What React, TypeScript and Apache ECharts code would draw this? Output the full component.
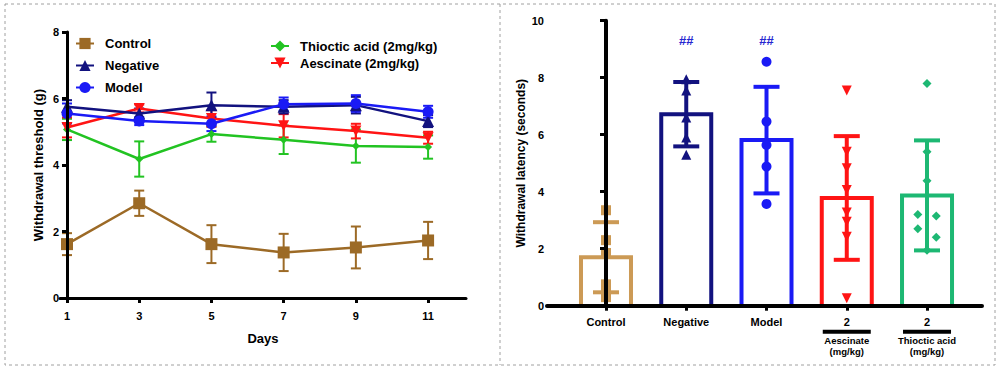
import React, { useEffect, useRef } from "react";
import * as echarts from "echarts";

const FONT = "'Liberation Sans', Arial, Helvetica, sans-serif";

// ---------- Left chart data ----------
const days = [1, 3, 5, 7, 9, 11];
const leftYTicks = [0, 2, 4, 6, 8];
const controlMean = [1.62, 2.85, 1.62, 1.37, 1.52, 1.73];
const controlSd = [0.33, 0.38, 0.57, 0.56, 0.63, 0.56];
const negativeMean = [5.75, 5.55, 5.8, 5.75, 5.8, 5.32];
const negativeSd = [0.2, 0.15, 0.38, 0.2, 0.25, 0.18];
const modelMean = [5.55, 5.32, 5.24, 5.83, 5.85, 5.6];
const modelSd = [0.3, 0.12, 0.22, 0.2, 0.25, 0.18];
const aescinateMean = [5.13, 5.7, 5.4, 5.18, 5.02, 4.82];
const aescinateSd = [0.3, 0.12, 0.25, 0.35, 0.22, 0.18];
const thiocticMean = [5.07, 4.18, 4.93, 4.76, 4.57, 4.54];
const thiocticSd = [0.32, 0.53, 0.23, 0.43, 0.5, 0.35];

// ---------- Right chart data ----------
const groups = ["Control", "Negative", "Model", "Aescinate", "Thioctic acid"];
const tickLabels = ["Control", "Negative", "Model", "2", "2"];
const subLabels = ["", "", "", "Aescinate", "Thioctic acid"];
const rightYTicks = [0, 2, 4, 6, 8, 10];
const barMeans = [1.7, 6.72, 5.81, 3.78, 3.87];
const barSds = [1.23, 1.13, 1.87, 2.17, 1.93];
const sigLabels = ["", "##", "##", "", ""];
const controlPts = [3.35, 2.3, 1.85, 0.75, 0.5, 0.3];
const negativePts = [7.95, 7.55, 6.6, 5.9, 5.3];
const modelPts = [8.56, 6.46, 5.64, 4.88, 3.57];
const aescinatePts = [7.55, 5.4, 4.82, 4.06, 3.27, 2.95, 2.42, 0.26];
const thiocticPts = [7.8, 5.4, 4.38, 3.2, 3.15, 2.7, 2.4, 1.95];
const thiocticJitter = [0, 0, 0, -0.115, 0.115, -0.115, 0.115, 0];

const C = {
  control: "#9c6a26",
  negative: "#12127f",
  model: "#1a1af5",
  aescinate: "#ff1414",
  thioctic: "#22c322",
  controlR: "#cc9a55",
  thiocticR: "#1db873",
  sig: "#2626d0",
};

export default function App() {
  const ref = useRef<HTMLDivElement>(null);

  useEffect(() => {
    document.body.style.margin = "0";
    const chart = echarts.init(ref.current!, null, { renderer: "svg" });

    const lineSeries = (
      name: string,
      mean: number[],
      color: string,
      symbol: string,
      size: number,
      rotate = 0
    ) => ({
      type: "line",
      name,
      xAxisIndex: 0,
      yAxisIndex: 0,
      data: days.map((d, i) => [d, mean[i]]),
      symbol,
      symbolSize: size,
      symbolRotate: rotate,
      itemStyle: { color },
      lineStyle: { color, width: 2.5 },
      z: 3,
    });

    const leftErr = (mean: number[], sd: number[], color: string) => ({
      type: "custom",
      xAxisIndex: 0,
      yAxisIndex: 0,
      data: days.map((d, i) => [d, mean[i], sd[i]]),
      encode: { x: 0, y: 1 },
      z: 2,
      renderItem: (params: any, api: any) => {
        const x = api.value(0);
        const m = api.value(1);
        const s = api.value(2);
        const hi = api.coord([x, m + s]);
        const lo = api.coord([x, m - s]);
        const st = { stroke: color, lineWidth: 2 };
        return {
          type: "group",
          children: [
            { type: "line", shape: { x1: hi[0], y1: hi[1], x2: lo[0], y2: lo[1] }, style: st },
            { type: "line", shape: { x1: hi[0] - 5, y1: hi[1], x2: hi[0] + 5, y2: hi[1] }, style: st },
            { type: "line", shape: { x1: lo[0] - 5, y1: lo[1], x2: lo[0] + 5, y2: lo[1] }, style: st },
          ],
        };
      },
    });

    const barColors = [C.controlR, C.negative, C.model, C.aescinate, C.thiocticR];

    const barSeries = {
      type: "custom",
      xAxisIndex: 1,
      yAxisIndex: 1,
      data: barMeans.map((v, i) => [i, v, barSds[i]]),
      encode: { x: 0, y: 1 },
      z: 2,
      renderItem: (params: any, api: any) => {
        const i = params.dataIndex;
        const x = api.value(0);
        const m = api.value(1);
        const s = api.value(2);
        const top = api.coord([x, m]);
        const base = api.coord([x, 0]);
        const hi = api.coord([x, m + s]);
        const lo = api.coord([x, m - s]);
        const color = barColors[i];
        const st = { stroke: color, lineWidth: 4, fill: "none" };
        const l = top[0] - 25;
        const r = top[0] + 25;
        return {
          type: "group",
          children: [
            {
              type: "polyline",
              shape: { points: [[l, base[1]], [l, top[1]], [r, top[1]], [r, base[1]]] },
              style: { ...st, lineJoin: "miter" },
            },
            { type: "line", shape: { x1: hi[0], y1: hi[1], x2: lo[0], y2: lo[1] }, style: st },
            { type: "line", shape: { x1: hi[0] - 13, y1: hi[1], x2: hi[0] + 13, y2: hi[1] }, style: st },
            { type: "line", shape: { x1: lo[0] - 13, y1: lo[1], x2: lo[0] + 13, y2: lo[1] }, style: st },
          ],
        };
      },
    };

    const sigSeries = {
      type: "custom",
      xAxisIndex: 1,
      yAxisIndex: 1,
      data: sigLabels.map((t, i) => [i, 9.3]),
      encode: { x: 0, y: 1 },
      z: 5,
      renderItem: (params: any, api: any) => {
        const p = api.coord([api.value(0), api.value(1)]);
        return {
          type: "text",
          style: {
            text: sigLabels[params.dataIndex],
            x: p[0],
            y: p[1],
            fill: C.sig,
            fontSize: 13,
            fontWeight: "bold",
            fontFamily: FONT,
            align: "center",
            verticalAlign: "middle",
          },
        };
      },
    };

    const pts = (
      idx: number,
      values: number[],
      color: string,
      symbol: string,
      size: number,
      rotate = 0,
      jitter?: number[]
    ) => ({
      type: "scatter",
      xAxisIndex: 1,
      yAxisIndex: 1,
      data: values.map((v, k) => [idx + (jitter ? jitter[k] : 0), v]),
      symbol,
      symbolSize: size,
      symbolRotate: rotate,
      itemStyle: { color, opacity: 1 },
      z: 4,
    });

    const axisLine = { show: true, lineStyle: { color: "#000", width: 3 } };
    const tick = { show: true, length: 5, lineStyle: { color: "#000", width: 3 } };
    const lbl = { color: "#000", fontWeight: "bold", fontSize: 11, fontFamily: FONT };
    const legendText = {
      color: "#000",
      fontWeight: "bold",
      fontSize: 13,
      fontFamily: FONT,
      rich: {
        t: { color: "#000", fontWeight: "bold", fontSize: 13, fontFamily: FONT, padding: [0, 0, 0, 6] },
      },
    };

    const option: any = {
      animation: false,
      backgroundColor: "#fff",
      textStyle: { fontFamily: FONT },
      grid: [
        { left: 60, top: 32, width: 406, height: 266 },
        { left: 547, top: 20.7, width: 435, height: 285 },
      ],
      xAxis: [
        {
          type: "value",
          gridIndex: 0,
          min: 0.806,
          max: 12.05,
          axisLine,
          axisTick: { ...tick, customValues: days },
          axisLabel: { ...lbl, customValues: days, margin: 12 },
          splitLine: { show: false },
          name: "Days",
          nameLocation: "middle",
          nameGap: 34,
          nameTextStyle: { color: "#000", fontWeight: "bold", fontSize: 13, fontFamily: FONT },
          z: 10,
        },
        {
          type: "value",
          gridIndex: 1,
          min: -0.735,
          max: 4.685,
          axisLine: { show: true, lineStyle: { color: "#000", width: 4 } },
          axisTick: { ...tick, length: 5, customValues: [0, 1, 2, 3, 4] },
          axisLabel: {
            customValues: [0, 1, 2, 3, 4],
            margin: 9,
            verticalAlign: "top",
            formatter: (v: number) => {
              const i = Math.round(v);
              if (subLabels[i]) {
                return `{main|${tickLabels[i]}}\n{bar|}\n{sub|${subLabels[i]}}\n{sub|(mg/kg)}`;
              }
              return `{main|${tickLabels[i]}}`;
            },
            rich: {
              main: { color: "#000", fontWeight: "bold", fontSize: 11, fontFamily: FONT, lineHeight: 14, align: "center" },
              bar: { width: 48, height: 4, backgroundColor: "#000", lineHeight: 6, align: "center" },
              sub: { color: "#000", fontWeight: "bold", fontSize: 9.5, fontFamily: FONT, lineHeight: 11, align: "center" },
            },
          },
          splitLine: { show: false },
          z: 10,
        },
      ],
      yAxis: [
        {
          type: "value",
          gridIndex: 0,
          min: 0,
          max: 8,
          offset: -7,
          axisLine,
          axisTick: { ...tick, customValues: leftYTicks },
          axisLabel: { ...lbl, customValues: leftYTicks, margin: 8 },
          splitLine: { show: false },
          name: "Withdrawal threshold (g)",
          nameLocation: "middle",
          nameGap: 22,
          nameTextStyle: { color: "#000", fontWeight: "bold", fontSize: 13, fontFamily: FONT },
          z: 10,
        },
        {
          type: "value",
          gridIndex: 1,
          min: 0,
          max: 10,
          offset: -5,
          axisLine: { show: true, lineStyle: { color: "#000", width: 4 } },
          axisTick: { ...tick, length: 6, customValues: rightYTicks },
          axisLabel: { ...lbl, customValues: rightYTicks, margin: 8 },
          splitLine: { show: false },
          name: "Withdrawal latency (seconds)",
          nameLocation: "middle",
          nameGap: 25,
          nameTextStyle: { color: "#000", fontWeight: "bold", fontSize: 12, fontFamily: FONT },
          z: 10,
        },
      ],
      legend: [
        {
          data: ["Control", "Negative", "Model"],
          orient: "vertical",
          left: 75,
          top: 37,
          padding: 0,
          itemWidth: 18,
          itemHeight: 14,
          itemGap: 9,
          selectedMode: false,
          formatter: (n: string) => `{t|${n}}`,
          textStyle: legendText,
        },
        {
          data: ["Thioctic acid (2mg/kg)", "Aescinate (2mg/kg)"],
          orient: "vertical",
          left: 270,
          top: 39.5,
          padding: 0,
          itemWidth: 18,
          itemHeight: 14,
          itemGap: 4,
          selectedMode: false,
          formatter: (n: string) => `{t|${n}}`,
          textStyle: legendText,
        },
      ],
      graphic: [
        {
          type: "rect",
          shape: { x: 5, y: 4, width: 990, height: 361 },
          style: { fill: "none", stroke: "#a0a0a0", lineWidth: 1, lineDash: [3, 3] },
          silent: true,
        },
        {
          type: "line",
          shape: { x1: 500, y1: 4, x2: 500, y2: 365 },
          style: { stroke: "#a0a0a0", lineWidth: 1, lineDash: [3, 3] },
          silent: true,
        },
      ],
      series: [
        leftErr(controlMean, controlSd, C.control),
        leftErr(thiocticMean, thiocticSd, C.thioctic),
        leftErr(aescinateMean, aescinateSd, C.aescinate),
        leftErr(negativeMean, negativeSd, C.negative),
        leftErr(modelMean, modelSd, C.model),
        lineSeries("Control", controlMean, C.control, "rect", 12),
        lineSeries("Thioctic acid (2mg/kg)", thiocticMean, C.thioctic, "diamond", 8),
        lineSeries("Aescinate (2mg/kg)", aescinateMean, C.aescinate, "triangle", 11, 180),
        lineSeries("Negative", negativeMean, C.negative, "triangle", 12),
        lineSeries("Model", modelMean, C.model, "circle", 11),
        barSeries,
        sigSeries,
        pts(0, controlPts, C.controlR, "rect", 10),
        pts(1, negativePts, C.negative, "triangle", 10),
        pts(2, modelPts, C.model, "circle", 10),
        pts(3, aescinatePts, C.aescinate, "triangle", 10, 180),
        pts(4, thiocticPts, C.thiocticR, "diamond", 9, 0, thiocticJitter),
      ],
    };

    chart.setOption(option);
    return () => chart.dispose();
  }, []);

  return <div ref={ref} style={{ width: 1000, height: 369 }} />;
}
